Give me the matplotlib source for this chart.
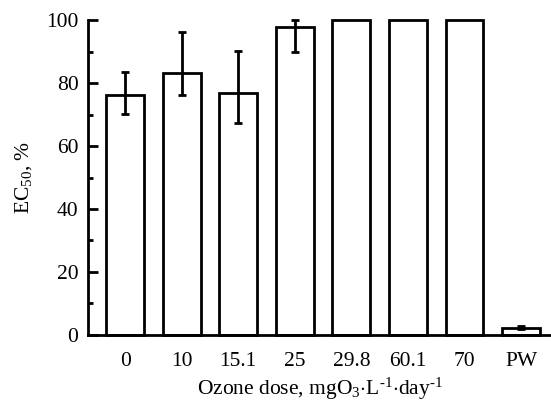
import matplotlib
matplotlib.use("Agg")
import matplotlib.pyplot as plt
import numpy as np

categories = ["0", "10", "15.1", "25", "29.8", "60.1", "70", "PW"]
values = [76.3, 83.3, 76.8, 97.8, 100, 100, 100, 2.3]
err_low = [6.1, 7.1, 9.5, 8.0, 0, 0, 0, 0.4]
err_high = [7.3, 12.9, 13.4, 2.2, 0, 0, 0, 0.4]
yticks = [0, 20, 40, 60, 80, 100]

plt.rcParams['font.family'] = ['Liberation Serif', 'DejaVu Serif']
plt.rcParams['mathtext.fontset'] = 'custom'
plt.rcParams['mathtext.rm'] = 'Liberation Serif'
plt.rcParams['mathtext.it'] = 'Liberation Serif:italic'

fig = plt.figure(figsize=(5.51, 4.03), dpi=100)
ax = fig.add_axes([0.16, 0.169, 0.84, 0.781])

x = np.arange(len(categories))
lw = 2.0
bars = ax.bar(x, values, width=0.67, facecolor='white', edgecolor='black',
              linewidth=lw, clip_on=False, zorder=2)
mask = [(lo > 0 or hi > 0) for lo, hi in zip(err_low, err_high)]
xe = [xi for xi, m in zip(x, mask) if m]
ve = [v for v, m in zip(values, mask) if m]
le = [l for l, m in zip(err_low, mask) if m]
he = [h for h, m in zip(err_high, mask) if m]
ax.errorbar(xe, ve, yerr=[le, he], fmt='none', ecolor='black',
            elinewidth=lw, capsize=3, capthick=lw, clip_on=False, zorder=3)

ax.set_xlim(-0.654, 7.53)
ax.set_ylim(0, 100)
ax.set_xticks(x)
ax.set_xticklabels(categories)
ax.set_yticks(yticks)
ax.set_yticks([10, 30, 50, 70, 90], minor=True)

for s in ['top', 'right']:
    ax.spines[s].set_visible(False)
for s in ['left', 'bottom']:
    ax.spines[s].set_linewidth(lw)

fs = 15.5
ax.tick_params(axis='y', which='major', direction='in', length=7, width=lw,
               labelsize=fs, pad=7)
ax.tick_params(axis='y', which='minor', direction='in', length=3.5, width=lw)
ax.tick_params(axis='x', which='both', length=0, labelsize=fs, pad=12)

ax.set_ylabel('EC$_{50}$, %', fontsize=fs, labelpad=9)
ax.set_xlabel('Ozone dose, mgO$_3$$\\cdot$L$^{\\text{-1}}$$\\cdot$day$^{\\text{-1}}$',
              fontsize=fs, labelpad=4)

fig.savefig('out.png', dpi=100)
